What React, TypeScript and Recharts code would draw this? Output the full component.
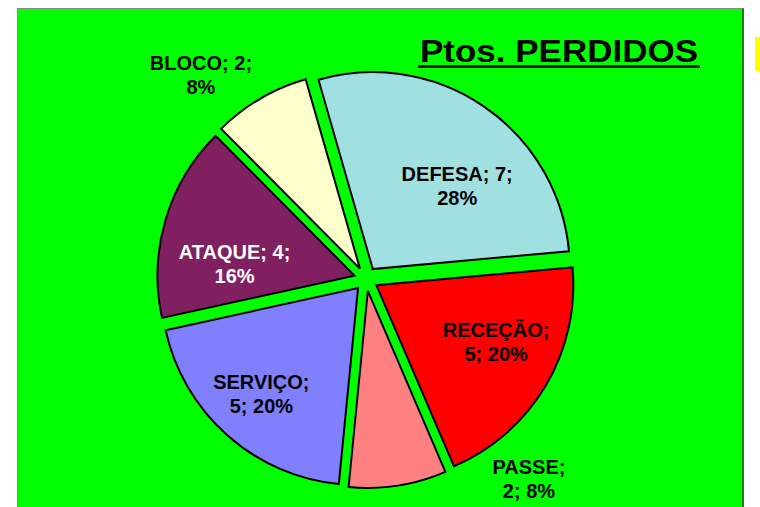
import { PieChart, Pie, Cell, Sector } from "recharts";

const categories = ["DEFESA", "RECEÇÃO", "PASSE", "SERVIÇO", "ATAQUE", "BLOCO"];
const pointsLost = [7, 5, 2, 5, 4, 2];
const sliceColors = ["#A0E0E0", "#FF0000", "#FF8080", "#8080FF", "#802060", "#FFFFCC"];
const chartTitle = "Ptos. PERDIDOS";

const data = categories.map((name, i) => ({ name, value: pointsLost[i] }));

// Excel-ish label placement: distance (fraction of radius), shift in clock degrees
// from the slice middle, and whether the value wraps onto the second line.
const labelPlacement: Record<string, { r: number; shift: number; wrapName: boolean; color: string }> = {
  DEFESA: { r: 0.65, shift: 11, wrapName: false, color: "#000" },
  "RECEÇÃO": { r: 0.74, shift: -4, wrapName: true, color: "#000" },
  PASSE: { r: 1.32, shift: -30, wrapName: true, color: "#000" },
  "SERVIÇO": { r: 0.8, shift: 0, wrapName: true, color: "#000" },
  ATAQUE: { r: 0.67, shift: -11, wrapName: false, color: "#fff" },
  BLOCO: { r: 1.32, shift: -9, wrapName: false, color: "#000" },
};

const FONT = "'Liberation Sans', Arial, sans-serif";
const EXPLODE = 12;

function ExplodedSector(props: any) {
  const rad = (-props.midAngle * Math.PI) / 180;
  return (
    <Sector
      {...props}
      cx={props.cx + EXPLODE * Math.cos(rad)}
      cy={props.cy + EXPLODE * Math.sin(rad)}
    />
  );
}

function SliceLabel(props: any) {
  const { cx, cy, midAngle, outerRadius, name, value, percent } = props;
  const p = labelPlacement[name];
  const clock = ((90 - midAngle + p.shift) * Math.PI) / 180;
  const d = outerRadius * p.r;
  const x = cx + d * Math.sin(clock);
  const y = cy - d * Math.cos(clock);
  const pct = Math.round(percent * 100);
  const lines = p.wrapName ? [`${name};`, `${value}; ${pct}%`] : [`${name}; ${value};`, `${pct}%`];
  return (
    <text
      x={x}
      y={y}
      textAnchor="middle"
      fontFamily={FONT}
      fontWeight="bold"
      fontSize={20}
      fill={p.color}
    >
      <tspan x={x} y={y - 8}>{lines[0]}</tspan>
      <tspan x={x} y={y + 16}>{lines[1]}</tspan>
    </text>
  );
}

export default function App() {
  return (
    <div style={{ position: "relative", width: 760, height: 507, overflow: "hidden", background: "#fff" }}>
      <style>{"body{margin:0}"}</style>
      <div
        style={{
          position: "absolute",
          left: 17,
          top: 8,
          width: 724,
          height: 520,
          background: "#00FF00",
          borderLeft: "1px solid #8a8a8a",
          borderTop: "1px solid #8a8a8a",
          borderRight: "2px solid #1E7A1E",
        }}
      />
      <div style={{ position: "absolute", left: 755, top: 37, width: 5, height: 34, background: "#FFFF00" }} />
      <PieChart
        width={760}
        height={507}
        margin={{ top: 0, right: 0, bottom: 0, left: 0 }}
        style={{ position: "absolute", left: 0, top: 0 }}
      >
        <Pie
          data={data}
          dataKey="value"
          nameKey="name"
          cx={366}
          cy={279}
          outerRadius={197}
          startAngle={106}
          endAngle={-254}
          stroke="#000"
          strokeWidth={2}
          shape={ExplodedSector}
          activeShape={ExplodedSector}
          inactiveShape={ExplodedSector}
          label={SliceLabel}
          labelLine={false}
          isAnimationActive={false}
        >
          {data.map((d, i) => (
            <Cell key={d.name} fill={sliceColors[i]} stroke="#000" strokeWidth={2} />
          ))}
        </Pie>
      </PieChart>
      <svg width={760} height={507} style={{ position: "absolute", left: 0, top: 0, pointerEvents: "none" }}>
        <text
          x={420}
          y={62}
          fontFamily={FONT}
          fontWeight="bold"
          fontSize={31}
          textLength={278}
          lengthAdjust="spacingAndGlyphs"
          fill="#000"
        >
          {chartTitle}
        </text>
        <line x1={418} x2={700} y1={66.5} y2={66.5} stroke="#000" strokeWidth={2.5} />
      </svg>
    </div>
  );
}
